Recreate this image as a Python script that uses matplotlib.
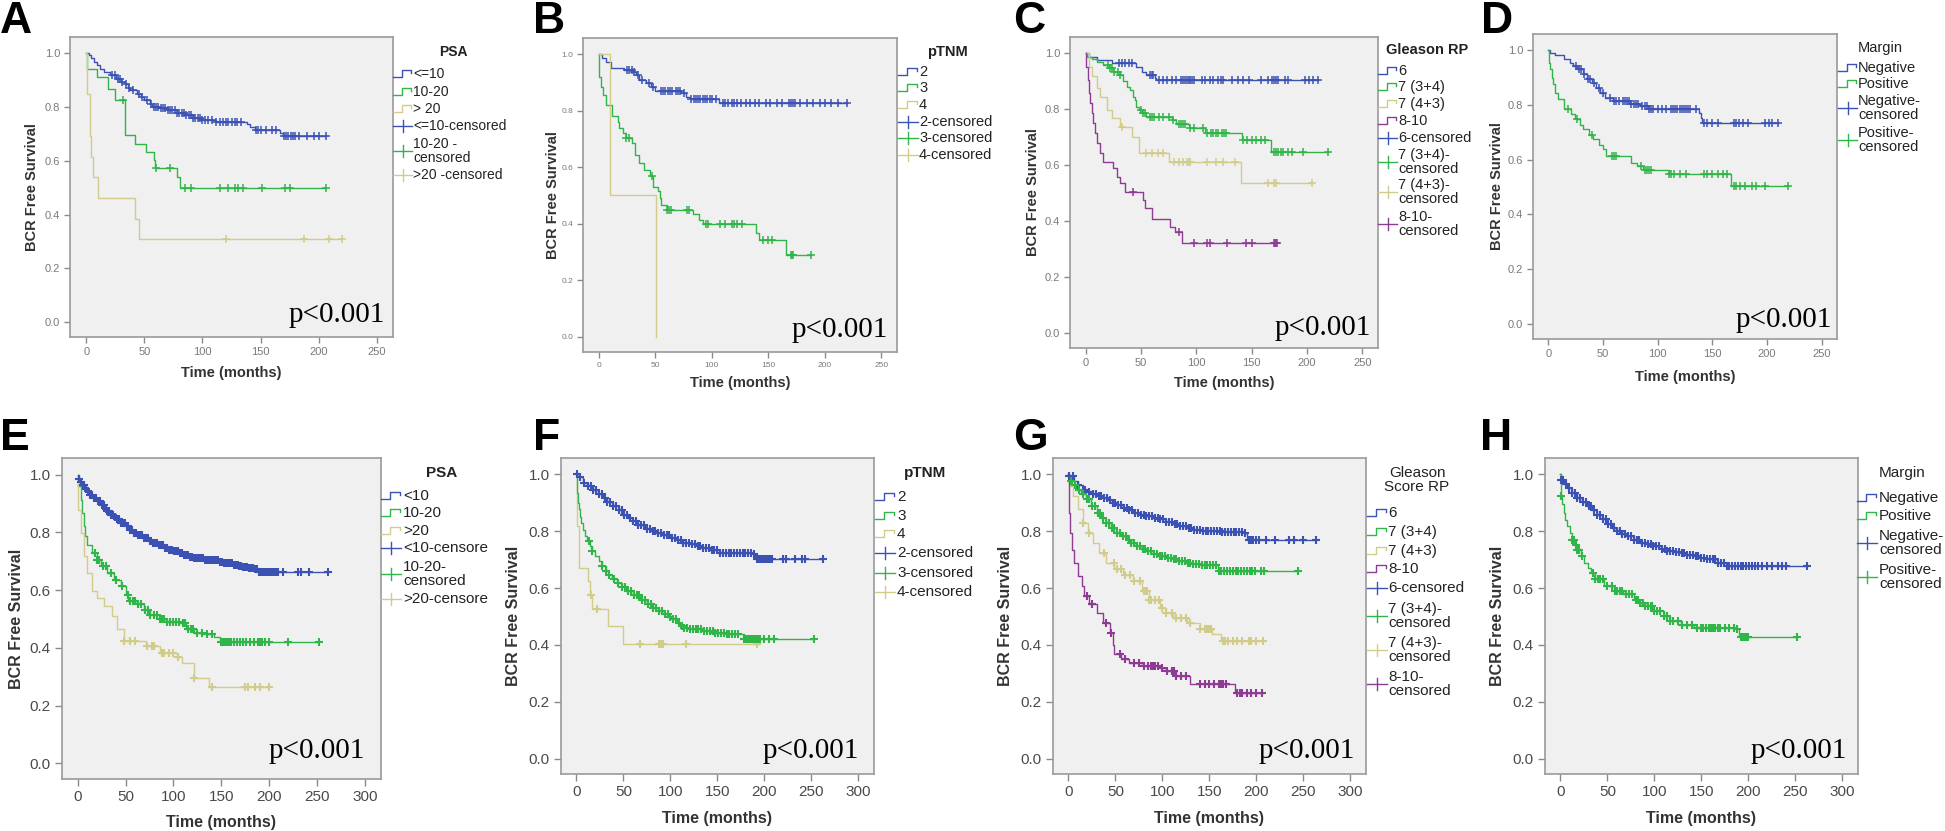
import numpy as np
import matplotlib
matplotlib.use('Agg')
import matplotlib.pyplot as plt
from matplotlib.lines import Line2D

# ---------------- data ----------------
# A: PSA (cohort 1)
a_le10_t = [0, 2, 4, 7, 9, 12, 15, 20, 26, 30, 33, 36, 38, 44, 47, 50, 55, 57, 63, 70, 78, 85, 92, 100, 112, 138, 141, 145, 167, 169]
a_le10_s = [1.0, 0.99, 0.98, 0.965, 0.953, 0.94, 0.928, 0.916, 0.904, 0.893, 0.885, 0.87, 0.86, 0.848, 0.835, 0.824, 0.81, 0.80, 0.795, 0.787, 0.775, 0.768, 0.757, 0.75, 0.744, 0.737, 0.725, 0.715, 0.703, 0.69]
a_le10_c = [22, 25, 27, 29, 31, 34, 37, 40, 45, 48, 52, 56, 58, 60, 62, 64, 66, 68, 70, 72, 74, 76, 78, 80, 82, 84, 86, 88, 90, 92, 94, 96, 98, 100, 102, 105, 108, 112, 115, 118, 120, 122, 125, 128, 130, 133, 146, 148, 150, 155, 160, 163, 170, 172, 174, 176, 178, 180, 183, 190, 196, 200, 206]
a_le10_end = 206
a_1020_t = [0, 1, 9, 19, 25, 33, 42, 51, 58, 59, 78, 81]
a_1020_s = [1.0, 0.941, 0.91, 0.867, 0.824, 0.694, 0.663, 0.633, 0.602, 0.571, 0.54, 0.497]
a_1020_c = [32, 60, 72, 85, 90, 115, 122, 128, 131, 135, 151, 171, 175, 206]
a_1020_end = 206
a_gt20_t = [0, 1, 3, 4, 6, 10, 42, 45]
a_gt20_s = [1.0, 0.846, 0.69, 0.615, 0.54, 0.462, 0.385, 0.308]
a_gt20_c = [120, 187, 209, 220]
a_gt20_end = 220

# B: pTNM (cohort 1)
b_2_t = [0, 3, 6, 11, 22, 30, 33, 36, 42, 46, 50, 73, 77, 81, 106]
b_2_s = [1.0, 0.986, 0.974, 0.95, 0.945, 0.939, 0.927, 0.91, 0.898, 0.886, 0.872, 0.862, 0.85, 0.841, 0.829]
b_2_c = [25, 27, 29, 31, 35, 38, 44, 48, 55, 57, 59, 61, 63, 65, 68, 70, 72, 75, 82, 84, 86, 88, 90, 92, 94, 96, 98, 100, 104, 110, 112, 114, 118, 120, 122, 126, 130, 134, 138, 142, 148, 152, 158, 162, 168, 170, 172, 174, 178, 184, 190, 196, 200, 206, 212, 220]
b_2_end = 220
b_3_t = [0, 0.5, 2, 3.5, 6.5, 12, 17, 18, 21, 24, 29, 32, 36, 40, 45, 48, 52, 54, 55, 60, 83, 89, 92, 139, 142, 166]
b_3_s = [1.0, 0.921, 0.886, 0.856, 0.82, 0.78, 0.762, 0.739, 0.72, 0.703, 0.685, 0.644, 0.615, 0.591, 0.568, 0.532, 0.515, 0.491, 0.468, 0.45, 0.433, 0.415, 0.40, 0.367, 0.341, 0.288]
b_3_c = [24, 27, 47, 60, 62, 64, 78, 80, 95, 97, 107, 112, 118, 120, 122, 127, 145, 150, 153, 170, 171, 172, 188]
b_3_end = 188
b_4_t = [0, 10, 51]
b_4_s = [1.0, 0.503, 0.0]
b_4_c = []
b_4_end = 51

# C: Gleason RP (cohort 1)
c_6_t = [0, 3, 10, 24, 46, 51, 55, 63, 64]
c_6_s = [1.0, 0.988, 0.976, 0.964, 0.952, 0.934, 0.922, 0.91, 0.905]
c_6_c = [30, 33, 36, 39, 42, 58, 60, 61, 66, 70, 74, 78, 82, 86, 88, 90, 92, 93, 94, 96, 98, 105, 108, 112, 115, 120, 122, 124, 132, 138, 142, 148, 158, 165, 168, 170, 172, 174, 180, 183, 198, 202, 205, 210]
c_6_end = 210
c_34_t = [0, 1, 6, 10, 16, 21, 25, 31, 34, 37, 40, 43, 45, 46, 48, 51, 55, 78, 82, 93, 108, 141, 167]
c_34_s = [1.0, 0.988, 0.98, 0.97, 0.958, 0.946, 0.934, 0.922, 0.899, 0.881, 0.869, 0.845, 0.833, 0.809, 0.797, 0.785, 0.773, 0.761, 0.747, 0.731, 0.714, 0.69, 0.648]
c_34_c = [20, 22, 24, 26, 29, 31, 50, 52, 54, 58, 60, 62, 66, 70, 75, 79, 84, 86, 88, 90, 94, 98, 106, 110, 113, 115, 118, 120, 123, 125, 127, 142, 146, 150, 154, 158, 162, 170, 172, 174, 176, 178, 183, 186, 196, 219]
c_34_end = 219
c_43_t = [0, 3, 6, 10, 13, 19, 24, 31, 42, 48, 75, 140]
c_43_s = [1.0, 0.952, 0.917, 0.875, 0.845, 0.797, 0.767, 0.737, 0.702, 0.642, 0.612, 0.537]
c_43_c = [33, 55, 60, 65, 70, 80, 84, 88, 92, 93, 94, 110, 118, 124, 135, 165, 170, 172, 204]
c_43_end = 204
c_810_t = [0, 0.5, 2, 3, 4, 6, 7, 9, 10, 13, 16, 25, 28, 31, 36, 52, 54, 60, 76, 81, 87]
c_810_s = [1.0, 0.952, 0.905, 0.857, 0.821, 0.785, 0.749, 0.714, 0.678, 0.642, 0.612, 0.588, 0.558, 0.535, 0.505, 0.475, 0.445, 0.409, 0.379, 0.361, 0.322]
c_810_c = [43, 84, 98, 110, 112, 128, 145, 150, 170, 171, 172, 173]
c_810_end = 173

# D: Margin (cohort 1)
d_neg_t = [0, 1.5, 6, 14, 20, 23, 26, 32, 35, 40, 44, 47, 52, 59, 75, 84, 91, 138, 140, 141]
d_neg_s = [1.0, 0.99, 0.98, 0.966, 0.954, 0.942, 0.929, 0.911, 0.893, 0.881, 0.862, 0.844, 0.826, 0.814, 0.801, 0.795, 0.783, 0.771, 0.753, 0.734]
d_neg_c = [25, 28, 30, 33, 36, 38, 42, 46, 50, 56, 60, 62, 65, 68, 70, 72, 74, 76, 78, 80, 82, 86, 88, 90, 92, 94, 96, 100, 104, 108, 112, 114, 116, 118, 120, 122, 124, 126, 128, 130, 135, 142, 145, 150, 155, 170, 172, 174, 178, 183, 198, 202, 205, 210]
d_neg_end = 210
d_pos_t = [0, 1, 2, 3, 4.5, 6, 9, 14, 21, 24, 29, 32, 37, 41, 46, 50, 53, 76, 81, 87, 110, 167]
d_pos_s = [1.0, 0.954, 0.929, 0.899, 0.875, 0.844, 0.82, 0.783, 0.765, 0.747, 0.728, 0.71, 0.691, 0.674, 0.655, 0.637, 0.615, 0.586, 0.576, 0.562, 0.546, 0.503]
d_pos_c = [18, 26, 40, 58, 60, 62, 85, 88, 90, 92, 94, 110, 112, 115, 120, 126, 142, 145, 150, 155, 160, 163, 170, 172, 175, 180, 186, 190, 198, 219]
d_pos_end = 219

# E: PSA (cohort 2)
e_lt10_t = [0, 1, 3, 5, 8, 10, 13, 16, 20, 24, 28, 31, 35, 38, 41, 45, 50, 54, 58, 63, 69, 74, 79, 84, 90, 95, 100, 106, 111, 116, 121, 132, 142, 148, 153, 163, 168, 173, 179, 184, 189]
e_lt10_s = [1.0, 0.985, 0.975, 0.965, 0.952, 0.942, 0.93, 0.92, 0.908, 0.894, 0.882, 0.873, 0.862, 0.853, 0.845, 0.833, 0.821, 0.81, 0.798, 0.79, 0.781, 0.772, 0.764, 0.756, 0.747, 0.741, 0.735, 0.728, 0.721, 0.716, 0.712, 0.706, 0.703, 0.699, 0.695, 0.689, 0.685, 0.681, 0.677, 0.674, 0.662]
e_lt10_c = [1, 3, 5, 7, 9, 11, 13, 15, 17, 19, 21, 23, 25, 27, 29, 31, 33, 35, 37, 39, 41, 43, 45, 47, 49, 51, 53, 55, 57, 59,
            61, 63, 65, 67, 69, 71, 73, 75, 77, 79, 81, 83, 85, 87, 89, 91, 93, 95, 97, 99, 101, 103, 105, 107, 109, 111, 113, 115,
            117, 119, 121, 123, 125, 127, 129, 131, 133, 135, 137, 139, 141, 143, 145, 147, 149, 151, 153, 155, 157, 159, 161, 163,
            165, 167, 169, 171, 173, 175, 177, 179, 181, 183, 185, 187, 189, 191, 193, 195, 197, 199, 201, 203, 205, 207, 209,
            215, 230, 233, 242, 262]
e_lt10_end = 262
e_1020_t = [0, 0.3, 3, 4.5, 6, 8, 10, 15, 20, 24, 31, 38, 45, 50, 53, 62, 69, 76, 86, 93, 107, 113, 121, 132, 142, 149]
e_1020_s = [1.0, 0.96, 0.914, 0.868, 0.821, 0.787, 0.758, 0.729, 0.706, 0.683, 0.66, 0.637, 0.614, 0.585, 0.562, 0.551, 0.533, 0.513, 0.499, 0.49, 0.485, 0.464, 0.453, 0.447, 0.439, 0.42]
e_1020_c = [18, 20, 22, 26, 30, 35, 40, 46, 52, 55, 58, 60, 63, 66, 70, 73, 76, 80, 83, 86, 88, 90, 93, 96, 100, 103, 106, 110, 112,
            115, 118, 120, 125, 130, 135, 140, 150, 152, 154, 156, 158, 160, 163, 166, 170, 173, 176, 180, 184, 188, 190, 193,
            196, 200, 220, 252]
e_1020_end = 252
e_gt20_t = [0, 0.3, 3, 6, 10, 15, 20, 27, 36, 41, 48, 71, 86, 104, 109, 121, 137]
e_gt20_s = [1.0, 0.879, 0.798, 0.718, 0.66, 0.597, 0.574, 0.545, 0.51, 0.464, 0.424, 0.407, 0.384, 0.367, 0.349, 0.297, 0.263]
e_gt20_c = [48, 55, 60, 72, 78, 80, 88, 90, 95, 100, 105, 122, 140, 175, 178, 185, 190, 200]
e_gt20_end = 200

# F: pTNM (cohort 2)
f_2_t = [0, 3, 7, 12, 18, 23, 28, 33, 39, 45, 50, 55, 60, 66, 73, 79, 85, 92, 100, 107, 114, 121, 128, 135, 142, 153, 171, 189, 190]
f_2_s = [1.0, 0.99, 0.971, 0.96, 0.947, 0.932, 0.918, 0.903, 0.889, 0.874, 0.859, 0.848, 0.836, 0.822, 0.807, 0.801, 0.795, 0.786, 0.777, 0.768, 0.76, 0.754, 0.748, 0.742, 0.736, 0.724, 0.722, 0.719, 0.701]
f_2_c = [1, 4, 8, 12, 15, 18, 21, 24, 27, 30, 33, 36, 39, 42, 45, 48, 51, 54, 57, 60, 63, 66, 69, 72, 75, 78, 81, 84, 87, 90,
         93, 96, 99, 102, 105, 108, 111, 114, 117, 120, 123, 126, 129, 132, 135, 138, 141, 144, 147, 150, 153, 156, 159, 162,
         165, 168, 171, 174, 177, 180, 183, 186, 189, 192, 194, 196, 198, 200, 202, 204, 206, 208, 220, 223, 233, 240, 243, 263]
f_2_end = 263
f_3_t = [0, 0.7, 2, 3, 4, 5, 7, 9, 11, 14, 17, 20, 24, 27, 31, 34, 38, 43, 48, 53, 60, 68, 75, 82, 88, 93, 98, 103, 107, 110, 115, 121, 135, 148, 160, 178]
f_3_s = [1.0, 0.935, 0.9, 0.877, 0.85, 0.83, 0.805, 0.783, 0.765, 0.748, 0.73, 0.713, 0.695, 0.678, 0.662, 0.648, 0.633, 0.619, 0.604, 0.59, 0.575, 0.56, 0.545, 0.531, 0.519, 0.508, 0.499, 0.49, 0.478, 0.467, 0.461, 0.455, 0.449, 0.443, 0.437, 0.42]
f_3_c = [13, 17, 27, 31, 35, 40, 44, 48, 52, 55, 58, 61, 64, 67, 70, 73, 76, 79, 82, 85, 88, 91, 94, 97, 100, 103, 106, 109,
         112, 115, 118, 121, 124, 127, 130, 133, 136, 139, 142, 145, 148, 151, 154, 157, 160, 163, 166, 169, 172, 178, 180,
         182, 184, 186, 188, 190, 192, 194, 196, 200, 205, 210, 253]
f_3_end = 253
f_4_t = [0, 0.7, 3, 12, 14, 16, 34, 50]
f_4_s = [1.0, 0.818, 0.672, 0.625, 0.575, 0.525, 0.467, 0.402]
f_4_c = [15, 22, 68, 88, 90, 92, 117, 192]
f_4_end = 195

# G: Gleason Score RP (cohort 2)
g_6_t = [0, 1, 6, 10, 15, 20, 26, 32, 37, 42, 47, 53, 58, 64, 69, 76, 83, 90, 97, 104, 111, 118, 126, 134, 143, 164, 188, 190]
g_6_s = [1.0, 0.994, 0.977, 0.962, 0.947, 0.938, 0.93, 0.924, 0.918, 0.909, 0.9, 0.892, 0.883, 0.874, 0.865, 0.859, 0.853, 0.848, 0.842, 0.833, 0.824, 0.818, 0.812, 0.806, 0.801, 0.797, 0.795, 0.771]
g_6_c = [1, 5, 10, 15, 18, 22, 26, 29, 32, 35, 38, 41, 44, 47, 50, 53, 56, 59, 62, 65, 68, 71, 74, 77, 80, 83, 86, 89, 92, 95,
         98, 101, 104, 107, 110, 113, 116, 119, 122, 125, 128, 131, 134, 137, 140, 143, 146, 149, 152, 155, 158, 161, 164,
         167, 170, 173, 176, 179, 182, 185, 188, 192, 195, 197, 200, 203, 210, 220, 235, 240, 250, 264]
g_6_end = 264
g_34_t = [0, 1, 4, 8, 13, 19, 24, 30, 35, 40, 45, 51, 56, 62, 67, 72, 78, 83, 90, 97, 104, 111, 118, 126, 133, 140, 159]
g_34_s = [1.0, 0.977, 0.962, 0.947, 0.93, 0.912, 0.889, 0.865, 0.848, 0.83, 0.812, 0.795, 0.783, 0.771, 0.76, 0.748, 0.739, 0.73, 0.721, 0.713, 0.707, 0.701, 0.695, 0.689, 0.686, 0.683, 0.66]
g_34_c = [3, 7, 11, 15, 20, 22, 25, 28, 31, 34, 37, 40, 43, 46, 49, 52, 55, 58, 61, 64, 67, 70, 73, 76, 79, 82, 85, 88, 91, 94,
          97, 100, 103, 106, 109, 112, 115, 118, 121, 124, 127, 130, 133, 136, 139, 142, 145, 148, 151, 154, 157, 160, 163,
          166, 169, 172, 175, 178, 181, 184, 187, 190, 193, 196, 199, 205, 208, 245]
g_34_end = 245
g_43_t = [0, 1, 5, 10, 15, 21, 26, 33, 40, 49, 58, 69, 78, 86, 97, 104, 111, 126, 140, 153, 163]
g_43_s = [1.0, 0.959, 0.924, 0.877, 0.83, 0.795, 0.76, 0.724, 0.689, 0.666, 0.648, 0.625, 0.589, 0.56, 0.531, 0.513, 0.496, 0.478, 0.455, 0.437, 0.414]
g_43_c = [15, 22, 38, 48, 52, 56, 60, 66, 70, 76, 80, 82, 84, 86, 88, 92, 96, 100, 104, 110, 115, 120, 125, 130, 140, 145, 148,
          150, 152, 165, 167, 170, 175, 180, 185, 192, 195, 200, 207]
g_43_end = 207
g_810_t = [0, 0.3, 2, 4, 6, 10, 14, 17, 22, 30, 37, 44, 47, 49, 56, 65, 79, 97, 104, 115, 129, 177]
g_810_s = [1.0, 0.865, 0.795, 0.736, 0.689, 0.642, 0.607, 0.572, 0.543, 0.513, 0.478, 0.443, 0.40, 0.367, 0.349, 0.338, 0.326, 0.32, 0.308, 0.29, 0.264, 0.232]
g_810_c = [20, 25, 40, 45, 55, 60, 70, 75, 80, 85, 88, 90, 92, 95, 100, 105, 110, 112, 115, 120, 125, 140, 145, 150, 155, 160,
           163, 165, 168, 180, 183, 185, 190, 195, 200, 206]
g_810_end = 206

# H: Margin (cohort 2)
h_neg_t = [0, 0.5, 4, 7, 12, 18, 23, 28, 34, 39, 44, 50, 55, 60, 66, 71, 78, 85, 92, 99, 107, 114, 121, 128, 135, 142, 149, 156, 167, 177]
h_neg_s = [1.0, 0.982, 0.968, 0.953, 0.935, 0.918, 0.903, 0.889, 0.874, 0.859, 0.842, 0.824, 0.812, 0.801, 0.792, 0.783, 0.771, 0.76, 0.754, 0.748, 0.739, 0.73, 0.726, 0.722, 0.717, 0.713, 0.707, 0.701, 0.689, 0.678]
h_neg_c = [1, 3, 6, 9, 12, 15, 18, 21, 24, 27, 30, 33, 36, 39, 42, 45, 48, 51, 54, 57, 60, 63, 66, 69, 72, 75, 78, 81, 84, 87,
           90, 93, 96, 99, 102, 105, 108, 111, 114, 117, 120, 123, 126, 129, 132, 135, 138, 141, 144, 147, 150, 153, 156, 159,
           162, 165, 168, 171, 174, 177, 180, 183, 186, 189, 192, 195, 198, 201, 204, 207, 210, 215, 220, 225, 232, 236, 240, 263]
h_neg_end = 263
h_pos_t = [0, 0.7, 2, 3.5, 5, 7, 10, 12, 15, 18, 22, 25, 29, 32, 37, 46, 57, 67, 78, 84, 89, 99, 110, 117, 128, 142, 188, 190]
h_pos_s = [1.0, 0.924, 0.895, 0.865, 0.84, 0.818, 0.795, 0.771, 0.753, 0.736, 0.712, 0.689, 0.671, 0.654, 0.631, 0.607, 0.59, 0.578, 0.56, 0.548, 0.537, 0.519, 0.502, 0.484, 0.472, 0.461, 0.455, 0.429]
h_pos_c = [1, 12, 14, 16, 18, 20, 23, 35, 37, 40, 42, 45, 50, 55, 58, 60, 63, 66, 70, 73, 76, 80, 83, 85, 88, 90, 93, 96, 98,
           100, 103, 106, 110, 113, 117, 120, 125, 130, 135, 140, 145, 150, 152, 155, 158, 160, 163, 165, 168, 170, 175, 180,
           185, 188, 192, 194, 196, 198, 200, 252]
h_pos_end = 252

# legend labels
psa1_labels = ['<=10', '10-20', '> 20', '<=10-censored', '10-20 -\ncensored', '>20 -censored']
psa2_labels = ['<10', '10-20', '>20', '<10-censore', '10-20-\ncensored', '>20-censore']
ptnm_labels = ['2', '3', '4', '2-censored', '3-censored', '4-censored']
gleason_labels = ['6', '7 (3+4)', '7 (4+3)', '8-10', '6-censored', '7 (3+4)-\ncensored', '7 (4+3)-\ncensored', '8-10-\ncensored']
margin_labels = ['Negative', 'Positive', 'Negative-\ncensored', 'Positive-\ncensored']

# ---------------- drawing ----------------
W, H = 1945, 831
BLUE = '#3B52B4'
GREEN = '#2FB548'
TAN = '#D2CC8A'
PURPLE = '#8E3B93'
SANS = 'Liberation Sans'

plt.rcParams['font.family'] = SANS

fig = plt.figure(figsize=(W / 100, H / 100), dpi=100)
fig.patch.set_facecolor('white')


def fx(x):
    return x / W


def fy(y):
    return 1 - y / H


def km(ax, t, s, c, end, color, ms, mew):
    t = np.asarray(t, float)
    s = np.asarray(s, float)
    ax.step(np.append(t, end), np.append(s, s[-1]), where='post', color=color, lw=1.0, zorder=3)
    if len(c):
        c = np.asarray(c, float)
        idx = np.searchsorted(t, c, side='right') - 1
        ax.plot(c, s[idx], ls='none', marker='+', ms=ms, mew=mew, color=color, zorder=4)


def legend(title, title_xy, title_ha, title_bold, gx0, gx1, tx, rows, labels, colors, fs):
    fig.text(fx(title_xy[0]), fy(title_xy[1]), title, ha=title_ha, va='center', fontsize=fs,
             fontweight='bold' if title_bold else 'normal', color='#222222', linespacing=0.95)
    n = len(colors)
    for i, (y, lab) in enumerate(zip(rows, labels)):
        col = colors[i % n]
        gw = gx1 - gx0
        if i < n:
            xs = [gx0, gx0 + 0.45 * gw, gx0 + 0.45 * gw, gx0 + 0.95 * gw, gx0 + 0.95 * gw]
            ys = [y + 3, y + 3, y - 4, y - 4, y - 1]
        else:
            xs = [gx0, gx1]
            ys = [y, y]
            fig.add_artist(Line2D([fx(gx0 + gw / 2)] * 2, [fy(y - 6), fy(y + 6)], color=col, lw=1.0,
                                  transform=fig.transFigure))
        fig.add_artist(Line2D([fx(v) for v in xs], [fy(v) for v in ys], color=col, lw=1.0,
                              transform=fig.transFigure))
        fig.text(fx(tx), fy(y), lab, ha='left', va='center', fontsize=fs, color='#222222', linespacing=0.92)


def panel(rect, top, letter, letter_xy, ylab_x, xlab_y, pval_xy, tick_fs, curves):
    x0, y0, x1, y1 = rect
    ax = fig.add_axes([fx(x0), fy(y1), (x1 - x0) / W, (y1 - y0) / H])
    ax.set_facecolor('#F0F0F0')
    for sp in ax.spines.values():
        sp.set_color('#9A9A9A')
        sp.set_linewidth(1.2)
    if top:
        ax.set_xlim(-14, 264)
        ax.set_xticks([0, 50, 100, 150, 200, 250])
        tcol, tlen, lab_fs, ms, mew = '#7A7A7A', 4, 10.5, 5.5, 1.1
    else:
        ax.set_xlim(-16.5, 317)
        ax.set_xticks([0, 50, 100, 150, 200, 250, 300])
        tcol, tlen, lab_fs, ms, mew = '#4A4A4A', 5, 11.5, 5.5, 1.5
    ax.set_ylim(-0.054, 1.058)
    ax.set_yticks([0, 0.2, 0.4, 0.6, 0.8, 1.0])
    ax.set_yticklabels(['0.0', '0.2', '0.4', '0.6', '0.8', '1.0'])
    ax.tick_params(direction='out', length=tlen, width=1.0, color='#8A8A8A', labelsize=tick_fs,
                   labelcolor=tcol, pad=3)
    for t, s, c, end, col in curves:
        km(ax, t, s, c, end, col, ms, mew)
    cy = (y0 + y1) / 2
    cx = (x0 + x1) / 2
    fig.text(fx(ylab_x), fy(cy), 'BCR Free Survival', rotation=90, ha='center', va='center',
             fontsize=lab_fs, fontweight='bold', color='#333333')
    fig.text(fx(cx), fy(xlab_y), 'Time (months)', ha='center', va='center',
             fontsize=lab_fs, fontweight='bold', color='#333333')
    fig.text(fx(pval_xy[0]), fy(pval_xy[1]), 'p<0.001', ha='right', va='baseline',
             fontsize=21, family='Liberation Serif', color='black')
    fig.text(fx(letter_xy[0]), fy(letter_xy[1]), letter, ha='left', va='baseline',
             fontsize=32, fontweight='bold', color='black')
    return ax


# top row
panel((70, 37, 393, 337), True, 'A', (0, 33), 32, 373, (385, 322), 8,
      [(a_le10_t, a_le10_s, a_le10_c, a_le10_end, BLUE),
       (a_1020_t, a_1020_s, a_1020_c, a_1020_end, GREEN),
       (a_gt20_t, a_gt20_s, a_gt20_c, a_gt20_end, TAN)])
legend('PSA', (453, 52), 'center', True, 393, 412, 413,
       [74, 92, 109, 126, 151, 175], psa1_labels, [BLUE, GREEN, TAN], 10)

panel((583, 38, 897, 352), True, 'B', (533, 33), 553, 383, (888, 337), 6,
      [(b_2_t, b_2_s, b_2_c, b_2_end, BLUE),
       (b_3_t, b_3_s, b_3_c, b_3_end, GREEN),
       (b_4_t, b_4_s, b_4_c, b_4_end, TAN)])
legend('pTNM', (947, 52), 'center', True, 898, 918, 919,
       [72, 88, 105, 122, 138, 155], ptnm_labels, [BLUE, GREEN, TAN], 10.5)

panel((1070, 37, 1378, 348), True, 'C', (1013, 33), 1033, 383, (1371, 335), 8,
      [(c_6_t, c_6_s, c_6_c, c_6_end, BLUE),
       (c_34_t, c_34_s, c_34_c, c_34_end, GREEN),
       (c_43_t, c_43_s, c_43_c, c_43_end, TAN),
       (c_810_t, c_810_s, c_810_c, c_810_end, PURPLE)])
legend('Gleason RP', (1386, 50), 'left', True, 1378, 1397, 1398,
       [71, 87, 104, 121, 138, 162, 192, 224], gleason_labels, [BLUE, GREEN, TAN, PURPLE], 10.5)

panel((1533, 34, 1837, 339), True, 'D', (1481, 33), 1497, 377, (1832, 327), 8,
      [(d_neg_t, d_neg_s, d_neg_c, d_neg_end, BLUE),
       (d_pos_t, d_pos_s, d_pos_c, d_pos_end, GREEN)])
legend('Margin', (1858, 48), 'left', False, 1838, 1857, 1858,
       [68, 84, 108, 140], margin_labels, [BLUE, GREEN], 10.5)

# bottom row
panel((62, 458, 381, 779), False, 'E', (0, 450), 17, 822, (365, 758), 11,
      [(e_lt10_t, e_lt10_s, e_lt10_c, e_lt10_end, BLUE),
       (e_1020_t, e_1020_s, e_1020_c, e_1020_end, GREEN),
       (e_gt20_t, e_gt20_s, e_gt20_c, e_gt20_end, TAN)])
legend('PSA', (442, 473), 'center', True, 381, 401, 403,
       [496, 513, 531, 548, 574, 599], psa2_labels, [BLUE, GREEN, TAN], 11)

panel((561, 458, 874, 774), False, 'F', (533, 450), 513, 819, (859, 758), 11,
      [(f_2_t, f_2_s, f_2_c, f_2_end, BLUE),
       (f_4_t, f_4_s, f_4_c, f_4_end, TAN),
       (f_3_t, f_3_s, f_3_c, f_3_end, GREEN)])
legend('pTNM', (925, 473), 'center', True, 875, 895, 897,
       [497, 516, 534, 553, 573, 592], ptnm_labels, [BLUE, GREEN, TAN], 11)

panel((1053, 458, 1366, 774), False, 'G', (1013, 450), 1005, 819, (1355, 758), 11,
      [(g_6_t, g_6_s, g_6_c, g_6_end, BLUE),
       (g_34_t, g_34_s, g_34_c, g_34_end, GREEN),
       (g_43_t, g_43_s, g_43_c, g_43_end, TAN),
       (g_810_t, g_810_s, g_810_c, g_810_end, PURPLE)])
legend('Gleason\nScore RP', (1417, 480), 'center', False, 1367, 1387, 1388,
       [513, 532, 551, 569, 588, 616, 650, 684], gleason_labels, [BLUE, GREEN, TAN, PURPLE], 11)

panel((1545, 458, 1858, 774), False, 'H', (1480, 450), 1497, 819, (1847, 758), 11,
      [(h_neg_t, h_neg_s, h_neg_c, h_neg_end, BLUE),
       (h_pos_t, h_pos_s, h_pos_c, h_pos_end, GREEN)])
legend('Margin', (1902, 473), 'center', False, 1857, 1877, 1879,
       [498, 516, 543, 577], margin_labels, [BLUE, GREEN], 11)

fig.savefig('out.png', dpi=100)
